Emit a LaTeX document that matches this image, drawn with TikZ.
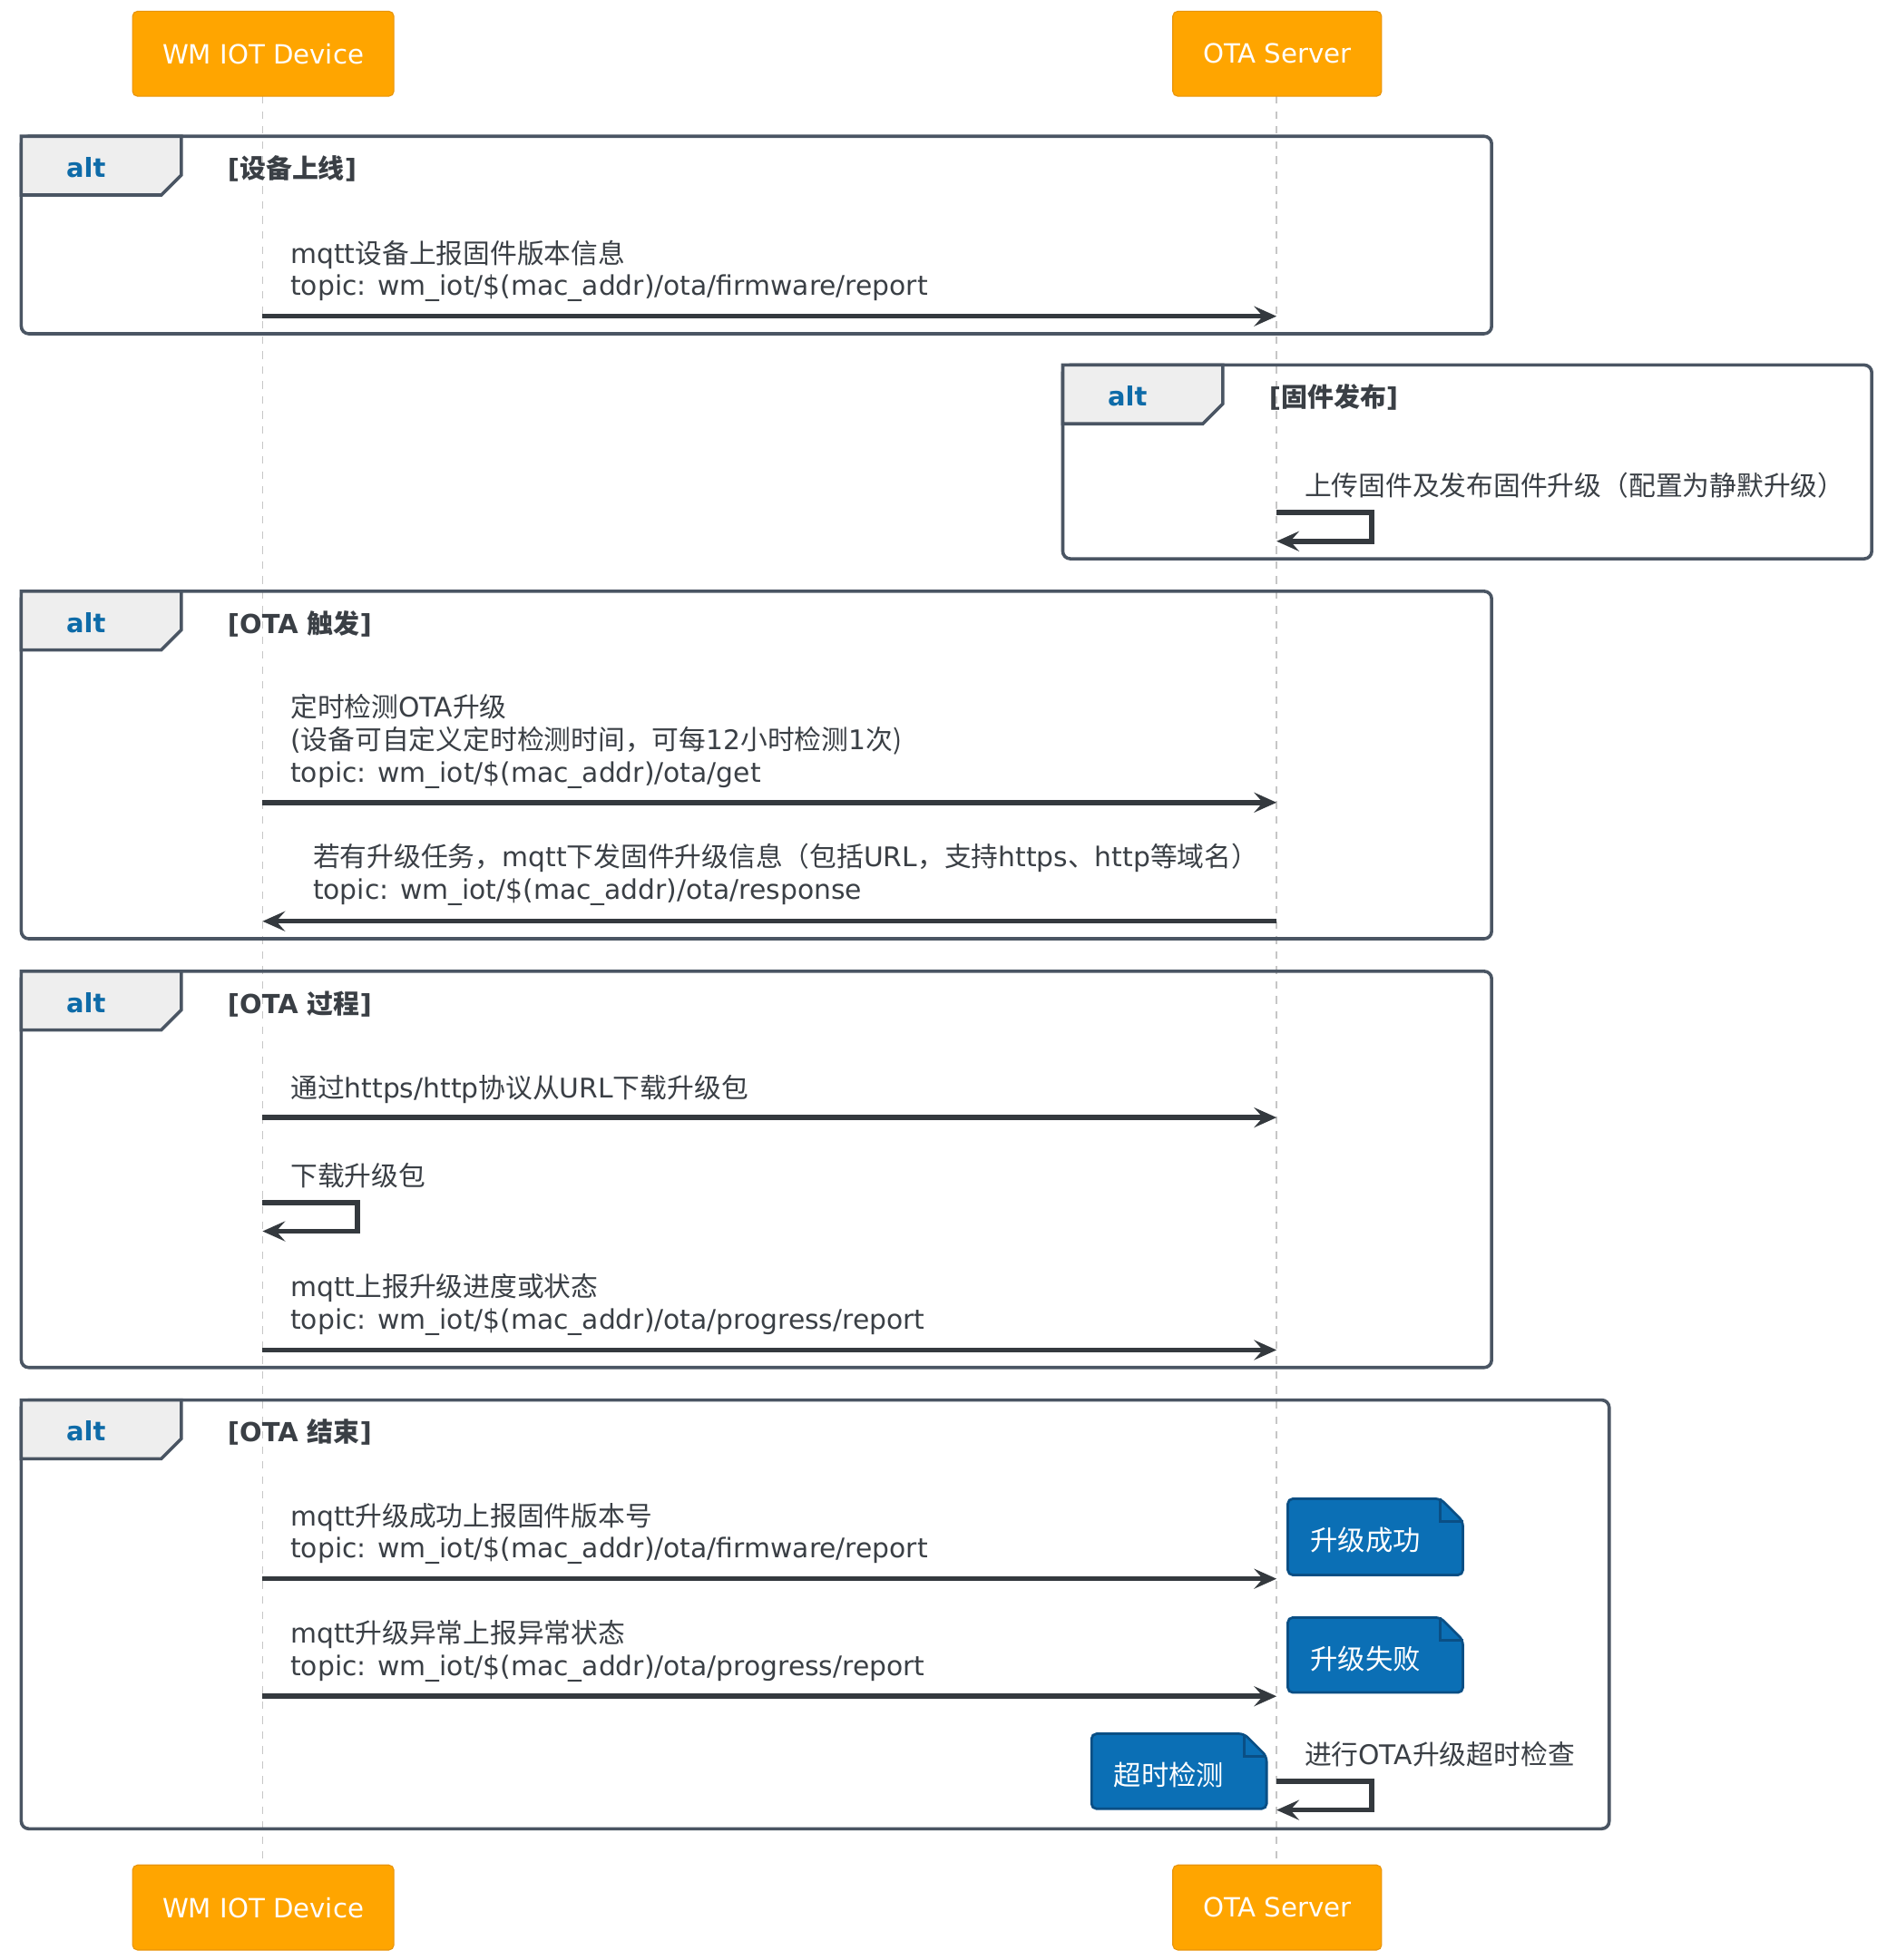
\documentclass[tikz,border=0pt]{standalone}
\usepackage{fontspec}
\setmainfont{DejaVu Sans}
\newfontfamily\cjk{Noto Sans CJK SC}
\usetikzlibrary{arrows.meta,shapes.misc}
\definecolor{orng}{HTML}{FFA500}
\definecolor{orngb}{HTML}{E8940A}
\definecolor{frm}{HTML}{4A5563}
\definecolor{tabf}{HTML}{EEEEEE}
\definecolor{altb}{HTML}{0E6BA8}
\definecolor{noteb}{HTML}{0B6FB5}
\definecolor{notebd}{HTML}{0A4F85}
\definecolor{txt}{HTML}{3A3F45}
\tikzset{
  part/.style={draw=orngb,fill=orng,rounded corners=2pt,text=white,font=\fontsize{10.6}{12}\selectfont,inner sep=0pt},
  life/.style={draw=gray!45,dashed,line width=0.6pt},
  frame/.style={draw=frm,line width=1.3pt,rounded corners=3pt},
  tab/.style={draw=frm,fill=tabf,line width=1.3pt},
  alttxt/.style={text=altb,font=\bfseries\fontsize{10.5}{12}\selectfont,anchor=west},
  guard/.style={text=txt,font=\bfseries\fontsize{10.5}{12}\selectfont,anchor=west},
  msg/.style={text=txt,font=\fontsize{10.8}{13}\selectfont,anchor=south west,align=left,inner sep=0pt},
  arr/.style={draw=txt!90!black,line width=2pt,-{Stealth[length=9pt,width=8pt,inset=3.5pt]}},
  note/.style={text=white,font=\fontsize{11}{12}\selectfont},
}
\newcommand{\altframe}[5]{% x1,y1,x2,y2,guard
  \draw[frame] (#1,#2) rectangle (#3,#4);
  \draw[tab] (#1,#2) -- (#1+128,#2) -- (#1+128,#2+31) -- (#1+112,#2+47) -- (#1,#2+47) -- cycle;
  \node[alttxt] at (#1+29,#2+25) {alt};
  \node[guard] at (#1+158,#2+26) {#5};
}
\newcommand{\notebox}[4]{% x1 y1 x2 y2
  \fill[noteb,draw=notebd,line width=1pt,rounded corners=2pt] (#1,#2) -- (#3-18,#2) -- (#3,#2+18) -- (#3,#4) -- (#1,#4) -- cycle;
  \draw[notebd,line width=1pt] (#3-18,#2) -- (#3-18,#2+18) -- (#3,#2+18);
}
\begin{document}
\begin{tikzpicture}[x=0.5pt,y=-0.5pt]
\useasboundingbox (0,0) rectangle (1509,1568);
% lifelines
\coordinate (d0) at (210,77); \coordinate (d1) at (210,1492);
\coordinate (s0) at (1021,77); \coordinate (s1) at (1021,1492);
\draw[life] (d0)--(d1); \draw[life] (s0)--(s1);
% participants
\node[part,minimum width=104.5pt,minimum height=34pt] (devT) at (210.5,43) {WM IOT Device};
\node[part,minimum width=83.5pt,minimum height=34pt] (srvT) at (1021.5,43) {OTA Server};
\node[part,minimum width=104.5pt,minimum height=34pt] (devB) at (210.5,1526) {WM IOT Device};
\node[part,minimum width=83.5pt,minimum height=34pt] (srvB) at (1021.5,1526) {OTA Server};

% frame 1
\altframe{17}{109}{1193}{267}{[{\cjk 设备上线}]}
\node[msg] (m1) at (232,242) {mqtt{\cjk 设备上报固件版本信息}\\topic: wm\_iot/\$(mac\_addr)/ota/firmware/report};
\coordinate (a1s) at (210,253); \coordinate (a1e) at (1021,253);
\draw[arr] (a1s)--(a1e);

% frame 2
\altframe{850}{292}{1497}{447}{[{\cjk 固件发布}]}
\node[msg] (m2) at (1043,399) {{\cjk 上传固件及发布固件升级（配置为静默升级）}};
\coordinate (l2a) at (1021,410); \coordinate (l2b) at (1021,433);
\draw[arr,sharp corners] (l2a) -- (1097,410) -- (1097,433) -- (l2b);

% frame 3
\altframe{17}{473}{1193}{751}{[OTA {\cjk 触发}]}
\node[msg] (m3) at (232,631) {{\cjk 定时检测}OTA{\cjk 升级}\\({\cjk 设备可自定义定时检测时间，可每}12{\cjk 小时检测}1{\cjk 次)}\\topic: wm\_iot/\$(mac\_addr)/ota/get};
\coordinate (a3s) at (210,642); \coordinate (a3e) at (1021,642);
\draw[arr] (a3s)--(a3e);
\node[msg] (m4) at (250,725) {{\cjk 若有升级任务，}mqtt{\cjk 下发固件升级信息（包括}URL{\cjk ，支持}https{\cjk 、}http{\cjk 等域名）}\\topic: wm\_iot/\$(mac\_addr)/ota/response};
\coordinate (a4s) at (1021,737); \coordinate (a4e) at (210,737);
\draw[arr] (a4s)--(a4e);

% frame 4
\altframe{17}{777}{1193}{1094}{[OTA {\cjk 过程}]}
\node[msg] (m5) at (232,883) {{\cjk 通过}https/http{\cjk 协议从}URL{\cjk 下载升级包}};
\coordinate (a5s) at (210,894); \coordinate (a5e) at (1021,894);
\draw[arr] (a5s)--(a5e);
\node[msg] (m6) at (232,951) {{\cjk 下载升级包}};
\coordinate (l6a) at (210,962); \coordinate (l6b) at (210,985);
\draw[arr,sharp corners] (l6a) -- (286,962) -- (286,985) -- (l6b);
\node[msg] (m7) at (232,1069) {mqtt{\cjk 上报升级进度或状态}\\topic: wm\_iot/\$(mac\_addr)/ota/progress/report};
\coordinate (a7s) at (210,1080); \coordinate (a7e) at (1021,1080);
\draw[arr] (a7s)--(a7e);

% frame 5
\altframe{17}{1120}{1287}{1463}{[OTA {\cjk 结束}]}
\node[msg] (m8) at (232,1252) {mqtt{\cjk 升级成功上报固件版本号}\\topic: wm\_iot/\$(mac\_addr)/ota/firmware/report};
\coordinate (a8s) at (210,1263); \coordinate (a8e) at (1021,1263);
\draw[arr] (a8s)--(a8e);
\notebox{1030}{1199}{1170}{1260}
\node[note] (n1) at (1092,1232) {\cjk 升级成功};
\node[msg] (m9) at (232,1346) {mqtt{\cjk 升级异常上报异常状态}\\topic: wm\_iot/\$(mac\_addr)/ota/progress/report};
\coordinate (a9s) at (210,1357); \coordinate (a9e) at (1021,1357);
\draw[arr] (a9s)--(a9e);
\notebox{1030}{1294}{1170}{1354}
\node[note] (n2) at (1092,1327) {\cjk 升级失败};
\notebox{873}{1387}{1013}{1447}
\node[note] (n3) at (935,1420) {\cjk 超时检测};
\node[msg] (m10) at (1043,1414) {{\cjk 进行}OTA{\cjk 升级超时检查}};
\coordinate (l10a) at (1021,1425); \coordinate (l10b) at (1021,1448);
\draw[arr,sharp corners] (l10a) -- (1097,1425) -- (1097,1448) -- (l10b);
\end{tikzpicture}
\end{document}
